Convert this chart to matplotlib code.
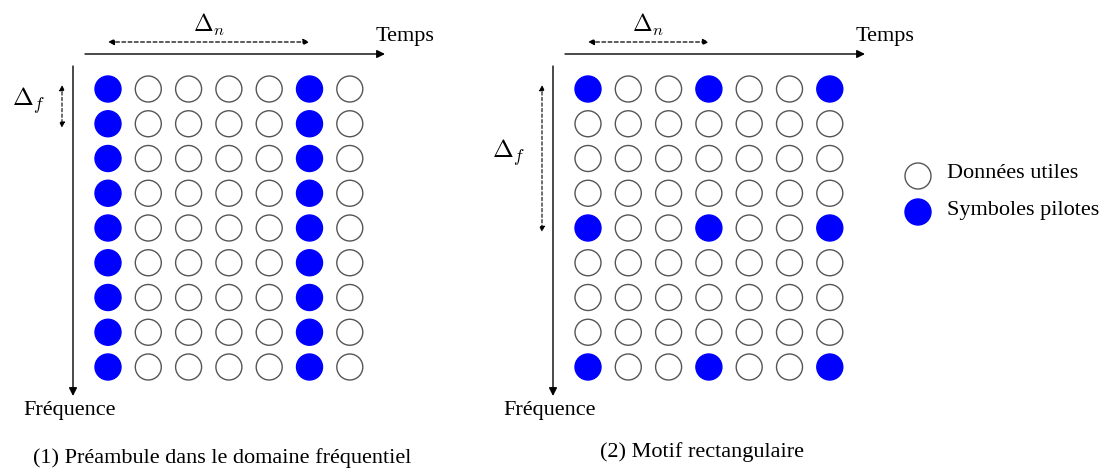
import numpy as np
import matplotlib
matplotlib.use("Agg")
import matplotlib.pyplot as plt
from matplotlib.patches import Circle

plt.rcParams['font.family'] = ['Liberation Serif', 'DejaVu Serif']
plt.rcParams['mathtext.fontset'] = 'cm'

# grid layout: 9 subcarriers (rows) x 7 symbols (columns)
n_rows = 9
n_cols = 7

# pilot pattern, panel 1: pilots on whole columns
pilot_cols_1 = [0, 5]
pilot_rows_1 = list(range(n_rows))
# pilot pattern, panel 2: rectangular lattice
pilot_cols_2 = [0, 3, 6]
pilot_rows_2 = [0, 4, 8]

captions = ["(1) Préambule dans le domaine fréquentiel", "(2) Motif rectangulaire"]
legend_labels = ["Données utiles", "Symboles pilotes"]

BLUE = "#0000ff"
EDGE = "#555555"
FS = 16

W, H = 1117, 470
fig = plt.figure(figsize=(W / 100, H / 100), dpi=100)
ax = fig.add_axes([0, 0, 1, 1])
ax.set_xlim(0, W)
ax.set_ylim(H, 0)
ax.axis('off')

dx, dy, r = 40.3, 34.75, 13.0
y0 = 89


def draw_panel(x0, pcols, prows, caption, ax_x, caption_y, dn_cols, df_rows, df_label_y):
    for i in range(n_rows):
        for j in range(n_cols):
            pilot = (j in pcols) and (i in prows)
            c = Circle((x0 + j * dx, y0 + i * dy), r,
                       facecolor=BLUE if pilot else 'white',
                       edgecolor=BLUE if pilot else EDGE, lw=1.0)
            ax.add_patch(c)
    # time axis
    ax.annotate("", xy=(ax_x + 312, 54), xytext=(ax_x + 12, 54),
                arrowprops=dict(arrowstyle="-|>", color='black', lw=1.0,
                                mutation_scale=12, shrinkA=0, shrinkB=0))
    ax.text(ax_x + 303, 37, "Temps", fontsize=FS, ha='left', va='center')
    # frequency axis
    ax.annotate("", xy=(ax_x, 396), xytext=(ax_x, 66),
                arrowprops=dict(arrowstyle="-|>", color='black', lw=1.0,
                                mutation_scale=12, shrinkA=0, shrinkB=0))
    ax.text(ax_x - 3, 411, "Fréquence", fontsize=FS, ha='center', va='center')
    # delta n
    xa = x0 + dn_cols[0] * dx
    xb = x0 + dn_cols[1] * dx
    ax.annotate("", xy=(xb, 42), xytext=(xa, 42),
                arrowprops=dict(arrowstyle="<|-|>", color='black', lw=0.9,
                                ls=(0, (3, 2)), mutation_scale=9,
                                shrinkA=0, shrinkB=0))
    ax.text((xa + xb) / 2, 25, r"$\Delta_n$", fontsize=17, ha='center', va='center')
    # delta f
    ya = y0 + df_rows[0] * dy - 4
    yb = y0 + df_rows[1] * dy + 4
    ax.annotate("", xy=(ax_x - 11, yb), xytext=(ax_x - 11, ya),
                arrowprops=dict(arrowstyle="<|-|>", color='black', lw=0.8,
                                ls=(0, (3, 2)), mutation_scale=8,
                                shrinkA=0, shrinkB=0))
    ax.text(ax_x - 44, df_label_y, r"$\Delta_f$", fontsize=18, ha='center', va='center')
    ax.text(ax_x + 149, caption_y, caption, fontsize=FS, ha='center', va='center')


draw_panel(108, pilot_cols_1, pilot_rows_1, captions[0], 73, 458, (0, 5), (0, 1), 101)
draw_panel(588, pilot_cols_2, pilot_rows_2, captions[1], 553, 452, (0, 3), (0, 4), 153)

# legend
for k, lab in enumerate(legend_labels):
    yy = 176 + k * 36
    ax.add_patch(Circle((918, yy), r,
                        facecolor=BLUE if k else 'white',
                        edgecolor=BLUE if k else EDGE, lw=1.0))
    ax.text(947, yy - 2, lab, fontsize=FS, ha='left', va='center')

fig.savefig("out.png", dpi=100)
